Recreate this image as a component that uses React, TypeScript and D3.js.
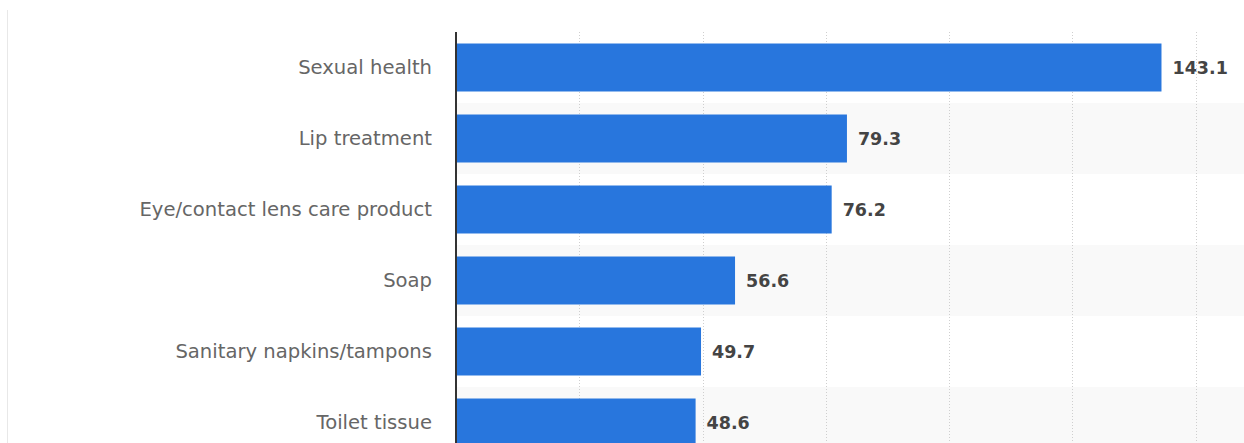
import React from "react";
import * as d3 from "d3";

const categories = [
  "Sexual health",
  "Lip treatment",
  "Eye/contact lens care product",
  "Soap",
  "Sanitary napkins/tampons",
  "Toilet tissue",
];
const values = [143.1, 79.3, 76.2, 56.6, 49.7, 48.6];
const valueLabels = ["143.1", "79.3", "76.2", "56.6", "49.7", "48.6"];
const gridTicks = [25, 50, 75, 100, 125, 150];

const W = 1244;
const H = 443;

export default function App() {
  const x = d3.scaleLinear().domain([0, 150]).range([456, 1195.5]);
  const y = d3
    .scaleBand<string>()
    .domain(categories)
    .range([32, 32 + 71 * categories.length])
    .paddingInner(0.324)
    .paddingOuter(0.162);
  const step = y.step();
  const font = "'DejaVu Sans', Verdana, sans-serif";
  return (
    <svg
      width={W}
      height={H}
      style={{ position: "absolute", left: 0, top: 0, display: "block" }}
    >
      <rect x={0} y={0} width={W} height={H} fill="#ffffff" />
      <line x1={7.5} x2={7.5} y1={10} y2={H} stroke="#e8e8e8" strokeWidth={1} />
      {categories.map((c, i) =>
        i % 2 === 1 ? (
          <rect
            key={"band" + c}
            x={x(0)}
            y={32 + i * step}
            width={W - x(0)}
            height={step}
            fill="#f9f9f9"
          />
        ) : null
      )}
      {gridTicks.map((t) => (
        <line
          key={"g" + t}
          x1={Math.round(x(t)) + 0.5}
          x2={Math.round(x(t)) + 0.5}
          y1={32}
          y2={H}
          stroke="#cfcfcf"
          strokeWidth={1}
          strokeDasharray="1,2"
        />
      ))}
      {categories.map((c, i) => (
        <rect
          key={"bar" + c}
          x={x(0)}
          y={y(c)}
          width={x(values[i]) - x(0)}
          height={y.bandwidth()}
          fill="#2876dd"
        />
      ))}
      <line x1={456} x2={456} y1={32} y2={H} stroke="#333333" strokeWidth={2} />
      {categories.map((c, i) => (
        <text
          key={"lab" + c}
          x={432}
          y={(y(c) as number) + y.bandwidth() / 2}
          dy="0.35em"
          textAnchor="end"
          fontFamily={font}
          fontSize={19.6}
          fill="#666666"
        >
          {c}
        </text>
      ))}
      {categories.map((c, i) => (
        <text
          key={"val" + c}
          x={x(values[i]) + 11}
          y={(y(c) as number) + y.bandwidth() / 2}
          dy="0.35em"
          fontFamily={font}
          fontSize={17.5}
          fontWeight="bold"
          fill="#444444"
        >
          {valueLabels[i]}
        </text>
      ))}
    </svg>
  );
}
